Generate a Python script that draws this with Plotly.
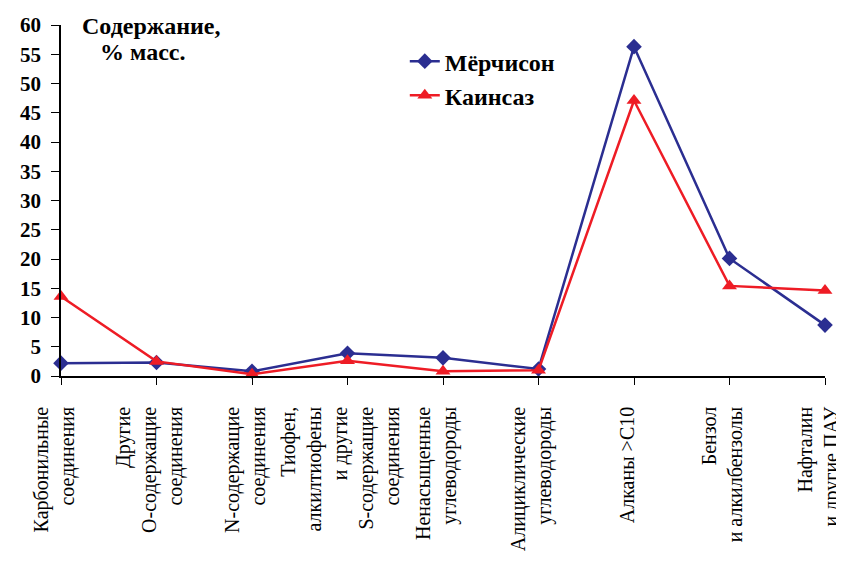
import plotly.graph_objects as go

categories = [
    "Карбонильные<br>соединения",
    "Другие<br>О-содержащие<br>соединения",
    "N-содержащие<br>соединения",
    "Тиофен,<br>алкилтиофены<br>и другие<br>S-содержащие<br>соединения",
    "Ненасыщенные<br>углеводороды",
    "Алициклические<br>углеводороды",
    "Алканы >C10",
    "Бензол<br>и алкилбензолы",
    "Нафталин<br>и другие ПАУ",
]
murchison = [2.2, 2.3, 0.8, 3.9, 3.1, 1.2, 56.3, 20.1, 8.7]
kainsaz = [13.6, 2.5, 0.3, 2.6, 0.8, 1.0, 47.1, 15.4, 14.6]
y_ticks = [0, 5, 10, 15, 20, 25, 30, 35, 40, 45, 50, 55, 60]

idx = list(range(len(categories)))
SERIF = "Liberation Serif"

fig = go.Figure()
fig.add_trace(go.Scatter(
    x=idx, y=murchison, name="Мёрчисон", mode="lines+markers",
    legendgroup="a",
    line=dict(color="#2B2E91", width=2.5),
    marker=dict(symbol="diamond", size=12, color="#2B2E91"),
    cliponaxis=False,
))
fig.add_trace(go.Scatter(
    x=idx, y=kainsaz, name="Каинсаз", mode="lines+markers",
    legendgroup="b",
    line=dict(color="#EE1C25", width=2.5),
    marker=dict(symbol="triangle-up", size=13, color="#EE1C25"),
    cliponaxis=False,
))

bold = dict(family=SERIF, size=24, color="black", weight=700)
ann = [
    dict(text="Содержание,", xref="paper", yref="paper", x=0.119, y=0.997,
         xanchor="center", yanchor="middle", showarrow=False, font=bold),
    dict(text="% масс.", xref="paper", yref="paper", x=0.107, y=0.922,
         xanchor="center", yanchor="middle", showarrow=False, font=bold),
]

fig.update_layout(
    width=836, height=560,
    margin=dict(l=53, r=19, t=17, b=192, autoexpand=False),
    plot_bgcolor="white", paper_bgcolor="white",
    font=dict(family=SERIF, color="black"),
    showlegend=True,
    legend=dict(
        x=0.45, y=0.96, xanchor="left", yanchor="top",
        font=dict(family=SERIF, size=24, color="black", weight=700),
        bgcolor="rgba(0,0,0,0)", tracegroupgap=0, itemwidth=30,
    ),
    xaxis=dict(
        range=[0, 8], tickmode="array", tickvals=idx, ticktext=categories,
        tickangle=-90, showline=True, linecolor="black", linewidth=1.5,
        ticks="outside", ticklen=7, tickcolor="black", showgrid=False,
        zeroline=False, tickfont=dict(family=SERIF, size=20, color="black"),
        ticklabelstandoff=14, automargin=False, ticklabeloverflow="allow",
        ticklabelshift=-7,
    ),
    yaxis=dict(
        range=[0, 60], tickmode="array", tickvals=y_ticks,
        showline=True, linecolor="black", linewidth=1.5,
        ticks="outside", ticklen=8, tickcolor="black", showgrid=False,
        zeroline=False, automargin=False,
        tickfont=dict(family=SERIF, size=21, color="black", weight=700),
        ticklabelstandoff=6,
    ),
    annotations=ann,
)

fig.write_html("out.html")
